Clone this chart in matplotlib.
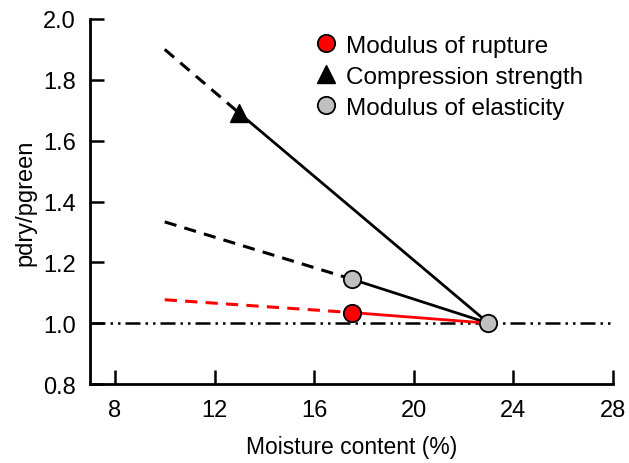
import matplotlib
matplotlib.use("Agg")
import matplotlib.pyplot as plt
from matplotlib.lines import Line2D

plt.rcParams['font.family'] = ['Liberation Sans', 'DejaVu Sans']

# Data
mc_green = 23.0
cs_x, cs_y = 13.0, 1.69      # compression strength
moe_x, moe_y = 17.5, 1.145   # modulus of elasticity
mor_x, mor_y = 17.5, 1.035   # modulus of rupture
extrap_x = 10.0
cs_ext, moe_ext, mor_ext = 1.90, 1.333, 1.077
ref_y = 1.0

fig = plt.figure(figsize=(6.29, 4.64), dpi=100)
ax = fig.add_axes([90/629, 1-385/464, (613-90)/629, (385-20)/464])

# reference line at 1.0
ax.plot([7.0, 28.0], [ref_y, ref_y], color='black', lw=1.8,
        dashes=[6.0, 2.0, 1.0, 2.0, 1.0, 2.0], clip_on=False, zorder=1)

# extrapolated dashed lines
dash = [4.0, 2.7]
ax.plot([extrap_x, cs_x], [cs_ext, cs_y], color='black', lw=2.2, dashes=dash, zorder=2)
ax.plot([extrap_x, moe_x], [moe_ext, moe_y], color='black', lw=2.2, dashes=dash, zorder=2)
ax.plot([extrap_x, mor_x], [mor_ext, mor_y], color='red', lw=2.2, dashes=dash, zorder=2)

# solid lines
ax.plot([cs_x, mc_green], [cs_y, ref_y], color='black', lw=2.0, zorder=3)
ax.plot([moe_x, mc_green], [moe_y, ref_y], color='black', lw=2.0, zorder=3)
ax.plot([mor_x, mc_green], [mor_y, ref_y], color='red', lw=2.0, zorder=3)

# markers
ms = 12.5
ax.plot([cs_x], [cs_y], marker='^', ms=ms, color='black', ls='none', zorder=4)
ax.plot([moe_x], [moe_y], marker='o', ms=ms, mfc='#c0c0c0', mec='black', mew=1.3, ls='none', zorder=4)
ax.plot([mor_x], [mor_y], marker='o', ms=ms, mfc='red', mec='black', mew=1.3, ls='none', zorder=4)
ax.plot([mc_green], [ref_y], marker='o', ms=ms, mfc='#c0c0c0', mec='black', mew=1.3, ls='none', zorder=5, clip_on=False)

ax.set_xlim(7, 28)
ax.set_ylim(0.8, 2.0)
ax.set_xticks([8, 12, 16, 20, 24, 28])
ax.set_yticks([0.8, 1.0, 1.2, 1.4, 1.6, 1.8, 2.0])
ax.set_yticklabels(['0.8', '1.0', '1.2', '1.4', '1.6', '1.8', '2.0'])
ax.tick_params(direction='in', length=10, width=1.8, labelsize=17)
ax.tick_params(axis='x', pad=11)
ax.tick_params(axis='y', pad=10)
for s in ['top', 'right']:
    ax.spines[s].set_visible(False)
for s in ['left', 'bottom']:
    ax.spines[s].set_linewidth(2.0)

ax.set_xlabel('Moisture content (%)', fontsize=16.5, labelpad=10)
ax.set_ylabel('pdry/pgreen', fontsize=17, labelpad=5)

handles = [
    Line2D([], [], marker='o', ls='none', ms=ms, mfc='red', mec='black', mew=1.3),
    Line2D([], [], marker='^', ls='none', ms=ms, color='black'),
    Line2D([], [], marker='o', ls='none', ms=ms, mfc='#c0c0c0', mec='black', mew=1.3),
]
labels = ['Modulus of rupture', 'Compression strength', 'Modulus of elasticity']
ax.legend(handles, labels, loc='upper left', bbox_to_anchor=(304/629, 1-26/464),
          bbox_transform=fig.transFigure, frameon=False, borderpad=0.4,
          fontsize=17.5, handletextpad=0.33, labelspacing=0.37, handlelength=1.0,
          borderaxespad=0)

fig.savefig('out.png', dpi=100)
